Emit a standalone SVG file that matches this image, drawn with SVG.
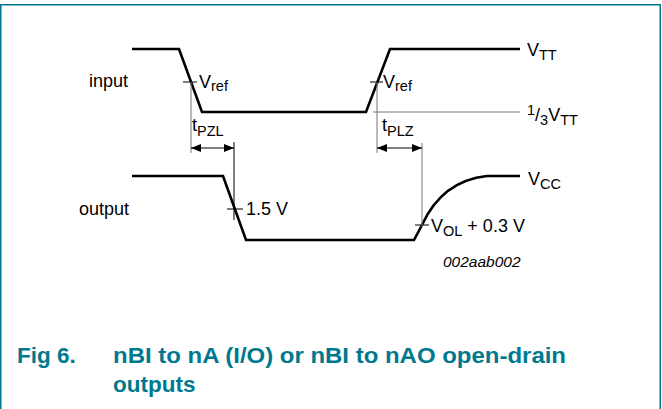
<svg xmlns="http://www.w3.org/2000/svg" width="662" height="409" viewBox="0 0 662 409">
<defs>
<style>
.wave{fill:none;stroke:#000;stroke-width:2.6;stroke-linejoin:miter}
.thin{fill:none;stroke:#000;stroke-width:1}
.gray{fill:none;stroke:#777;stroke-width:1}
.lbl{font-family:"Liberation Sans",Arial,sans-serif;font-size:18px;fill:#000}
.sub{font-size:14.5px}
.cap{font-family:"Liberation Sans",Arial,sans-serif;font-size:22.5px;font-weight:bold;fill:#00798f}
</style>
<marker id="ah" viewBox="0 0 10 8" refX="10" refY="4" markerWidth="10" markerHeight="8" markerUnits="userSpaceOnUse" orient="auto-start-reverse">
<path d="M0,0 L10,4 L0,8 Z" fill="#000"/>
</marker>
</defs>
<rect x="0.75" y="4.75" width="659.5" height="430" fill="#fff" stroke="#00798f" stroke-width="1.5"/>
<g id="input-wave">
<path class="wave" d="M132,49 L179,49 L202,112 L366,112 L390,49 L520,49"/>
<text class="lbl" x="89" y="87">input</text>
</g>
<g id="output-wave">
<path class="wave" d="M132,176 L223,176 L246,240 L414,240 L422,225 C432,203 450,180 487,176 L520,176"/>
<text class="lbl" x="79" y="215">output</text>
</g>
<g id="levels">
<path class="gray" d="M373,112 L520,112"/>
<text class="lbl" x="527" y="56">V<tspan class="sub" dy="4">TT</tspan></text>
<text class="lbl" x="527" y="121"><tspan class="sub" dy="-6">1</tspan><tspan dy="6">/</tspan><tspan class="sub" dy="4">3</tspan><tspan dy="-4">V</tspan><tspan class="sub" dy="4">TT</tspan></text>
<text class="lbl" x="528" y="185">V<tspan class="sub" dy="4">CC</tspan></text>
</g>
<g id="markers">
<path class="thin" d="M183,82 L197,82 M370,82 L383,82 M227,209 L243,209 M415,225 L429,225"/>
<text class="lbl" x="199" y="88">V<tspan class="sub" dy="3">ref</tspan></text>
<text class="lbl" x="383" y="88">V<tspan class="sub" dy="3">ref</tspan></text>
<text class="lbl" x="246" y="215">1.5 V</text>
<text class="lbl" x="431" y="232">V<tspan class="sub" dy="4">OL</tspan><tspan dy="-4"> + 0.3 V</tspan></text>
</g>
<g id="connectors">
<path class="gray" d="M191,82 L191,153 M377,82 L377,153 M422,143 L422,227"/>
<path class="thin" d="M234,142 L234,220"/>
<path class="thin" d="M191,148 L234,148" marker-start="url(#ah)" marker-end="url(#ah)"/>
<path class="thin" d="M377,148 L422,148" marker-start="url(#ah)" marker-end="url(#ah)"/>
<text class="lbl" x="192" y="131">t<tspan class="sub" dy="5">PZL</tspan></text>
<text class="lbl" x="382" y="131">t<tspan class="sub" dy="5">PLZ</tspan></text>
</g>
<text x="443" y="267" font-family="'Liberation Sans',Arial,sans-serif" font-size="15.5" font-style="italic" fill="#000">002aab002</text>
<g id="caption">
<text class="cap" x="17" y="363">Fig 6.</text>
<text class="cap" x="113" y="363" textLength="453" lengthAdjust="spacingAndGlyphs">nBI to nA (I/O) or nBI to nAO open-drain</text>
<text class="cap" x="113" y="392">outputs</text>
</g>
</svg>
